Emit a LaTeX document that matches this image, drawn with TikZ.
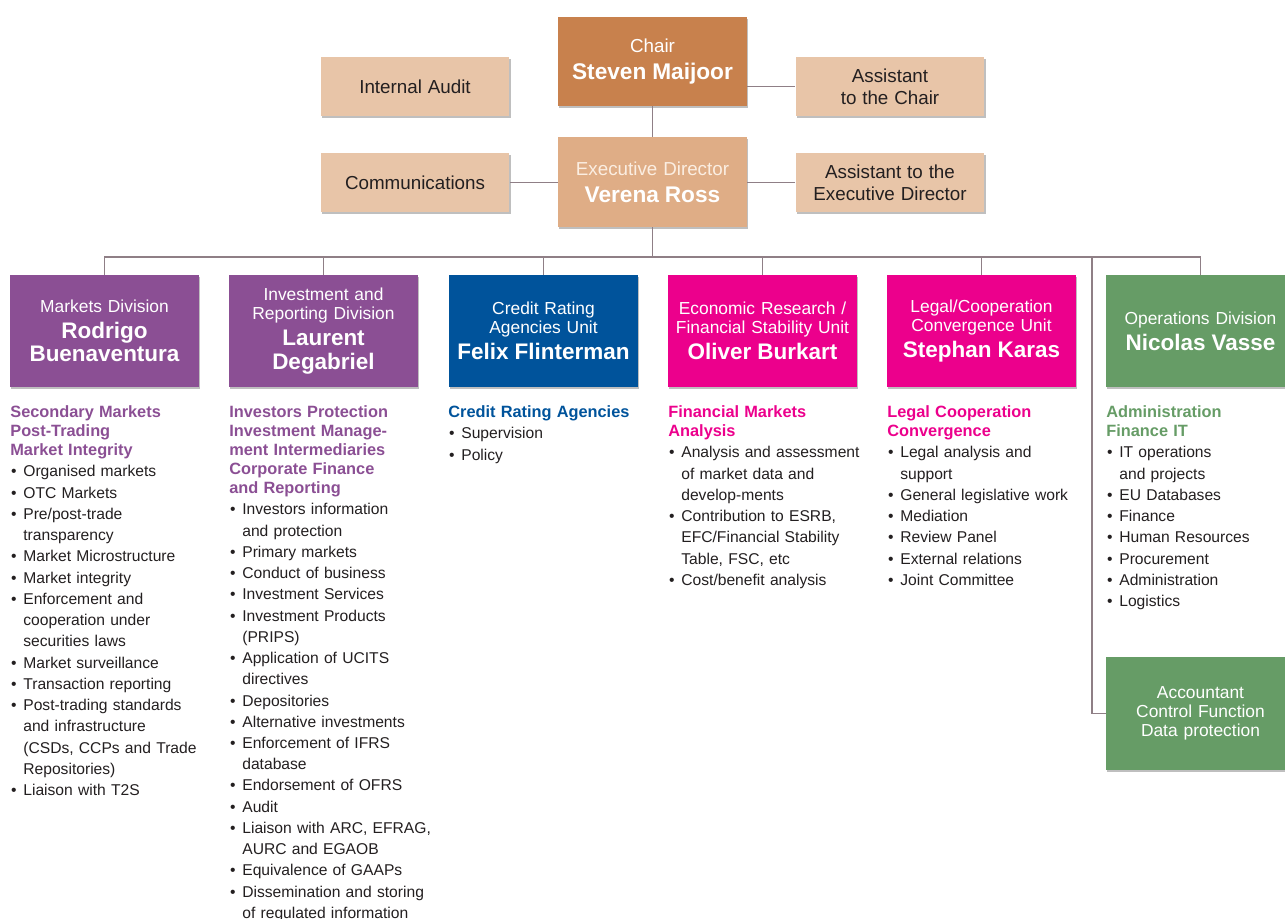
\documentclass[tikz,border=0pt]{standalone}
\usepackage{fontspec}
\setmainfont{Liberation Sans}
\usetikzlibrary{shadows}

\definecolor{chairbrown}{HTML}{C8814D}
\definecolor{execbrown}{HTML}{DFAD86}
\definecolor{execcream}{HTML}{FBEEE2}
\definecolor{staffbeige}{HTML}{E8C5A8}
\definecolor{mktpurple}{HTML}{8B4F94}
\definecolor{crablue}{HTML}{00539B}
\definecolor{ecomagenta}{HTML}{EC008C}
\definecolor{opsgreen}{HTML}{669C66}
\definecolor{linkgrey}{HTML}{8F7F86}
\definecolor{inkblack}{HTML}{231F20}

\newcommand{\ttitle}[1]{{\fontsize{10.7}{12.5}\selectfont #1\par}}
\newcommand{\tname}[1]{{\fontsize{12.9}{15.3}\selectfont\bfseries #1\par}}
\newcommand{\dtitle}[1]{{\fontsize{9.9}{10.8}\selectfont #1\par}}
\newcommand{\dname}[1]{{\fontsize{12.8}{13.2}\selectfont\bfseries\vspace{1.8pt}#1\par}}
\newcommand{\lhead}[2]{{\fontsize{9.3}{10.8}\selectfont\bfseries\noindent\color{#1}#2\par}}
\newcommand{\itm}{\par\hangindent=7.4pt\hangafter=1\noindent\makebox[7.4pt][l]{\hspace{0.5pt}\textbullet}}

\begin{document}
\begin{tikzpicture}
	 [x=0.02cm,y=-0.02cm,
	  orgbox/.style={rectangle,inner sep=0pt,minimum width=3.78cm,align=center,
	    drop shadow={shadow xshift=.7pt,shadow yshift=-.9pt,opacity=.5}},
	  topbox/.style={orgbox,minimum height=1.18cm,fill=staffbeige,text=inkblack,text width=3.76cm},
	  divbox/.style={orgbox,minimum height=2.24cm,text=white,text width=3.78cm},
	  listtext/.style={anchor=north west,inner sep=0pt,text width=4.1cm,align=left,text=inkblack,
	    font=\fontsize{8.9}{12.09}\selectfont},
	  link/.style={draw=linkgrey,line width=.6pt}]

	  \useasboundingbox (0,0) rectangle (1285,919);

	  % management
	  \node[topbox,fill=chairbrown,minimum height=1.78cm,text=white] (chair) at (652.5,61.5) {\ttitle{Chair}\tname{Steven Maijoor}};
	  \node[topbox] (audit) at (415,86.5) {\ttitle{Internal Audit}};
	  \node[topbox] (aschair) at (890,86.5) {\ttitle{Assistant\\to the Chair}};
	  \node[topbox,fill=execbrown,minimum height=1.8cm,text=white] (exec) at (652.5,182) {\ttitle{\textcolor{execcream}{Executive Director}}\tname{Verena Ross}};
	  \node[topbox] (comm) at (415,182.5) {\ttitle{Communications}};
	  \node[topbox] (asexec) at (890,182.5) {\ttitle{Assistant to the\\Executive Director}};

	  % divisions and units
	  \node[divbox,fill=mktpurple] (mkt) at (104.5,331) {\dtitle{Markets Division}\dname{Rodrigo\\Buenaventura}};
	  \node[divbox,fill=mktpurple] (inv) at (323.5,331) {\dtitle{Investment and\\Reporting Division}\dname{Laurent\\Degabriel}};
	  \node[divbox,fill=crablue] (cra) at (543.5,331) {\dtitle{Credit Rating\\Agencies Unit}\dname{Felix Flinterman}};
	  \node[divbox,fill=ecomagenta] (eco) at (762.5,331) {\dtitle{Economic Research /\\Financial Stability Unit}\dname{Oliver Burkart}};
	  \node[divbox,fill=ecomagenta] (leg) at (981.5,331) {\dtitle{Legal/Cooperation\\Convergence Unit}\dname{Stephan Karas}};
	  \node[divbox,fill=opsgreen] (ops) at (1200.5,331) {\dtitle{Operations Division}\dname{Nicolas Vasse}};
	  \node[divbox,fill=opsgreen,minimum height=2.26cm] (acc) at (1200.5,713.5) {\dtitle{Accountant\\Control Function\\Data protection}};

	  % connectors
	  \coordinate (bus) at (652.5,257);
	  \coordinate (fork) at (1092,257);
	  \draw[link] (chair) -- (exec);
	  \draw[link] (aschair.west) -- (aschair.west -| chair.east);
	  \draw[link] (comm.east) -- (comm.east -| exec.west);
	  \draw[link] (asexec.west) -- (asexec.west -| exec.east);
	  \draw[link] (exec) -- (bus);
	\foreach \d in {mkt,inv,cra,eco,leg,ops}
    \draw[link] (\d.north) |- (bus);
	  \draw[link] (fork) |- (acc.west);

	  % tasks
	  \node[listtext] (mkttasks) at (10,405.5) {\lhead{mktpurple}{Secondary Markets\newline Post-Trading\newline Market Integrity}%
	    \itm Organised markets
	    \itm OTC Markets
	    \itm Pre/post-trade\newline transparency
	    \itm Market Microstructure
	    \itm Market integrity
	    \itm Enforcement and\newline cooperation under\newline securities laws
	    \itm Market surveillance
	    \itm Transaction reporting
	    \itm Post-trading standards\newline and infrastructure\newline (CSDs, CCPs and Trade\newline Repositories)
	    \itm Liaison with T2S\par};
	  \node[listtext] (invtasks) at (229,405.5) {\lhead{mktpurple}{Investors Protection\newline Investment Manage-\newline ment Intermediaries\newline Corporate Finance\newline and Reporting}%
	    \itm Investors information\newline and protection
	    \itm Primary markets
	    \itm Conduct of business
	    \itm Investment Services
	    \itm Investment Products\newline (PRIPS)
	    \itm Application of UCITS\newline directives
	    \itm Depositories
	    \itm Alternative investments
	    \itm Enforcement of IFRS\newline database
	    \itm Endorsement of OFRS
	    \itm Audit
	    \itm Liaison with ARC, EFRAG,\newline AURC and EGAOB
	    \itm Equivalence of GAAPs
	    \itm Dissemination and storing\newline of regulated information\par};
	  \node[listtext] (cratasks) at (448,405.5) {\lhead{crablue}{Credit Rating Agencies}%
	    \itm Supervision
	    \itm Policy\par};
	  \node[listtext] (ecotasks) at (668,405.5) {\lhead{ecomagenta}{Financial Markets\newline Analysis}%
	    \itm Analysis and assessment\newline of market data and\newline develop-ments
	    \itm Contribution to ESRB,\newline EFC/Financial Stability\newline Table, FSC, etc
	    \itm Cost/benefit analysis\par};
	  \node[listtext] (legtasks) at (887,405.5) {\lhead{ecomagenta}{Legal Cooperation\newline Convergence}%
	    \itm Legal analysis and\newline support
	    \itm General legislative work
	    \itm Mediation
	    \itm Review Panel
	    \itm External relations
	    \itm Joint Committee\par};
	  \node[listtext] (opstasks) at (1106,405.5) {\lhead{opsgreen}{Administration\newline Finance IT}%
	    \itm IT operations\newline and projects
	    \itm EU Databases
	    \itm Finance
	    \itm Human Resources
	    \itm Procurement
	    \itm Administration
	    \itm Logistics\par};

\end{tikzpicture}
\end{document}
